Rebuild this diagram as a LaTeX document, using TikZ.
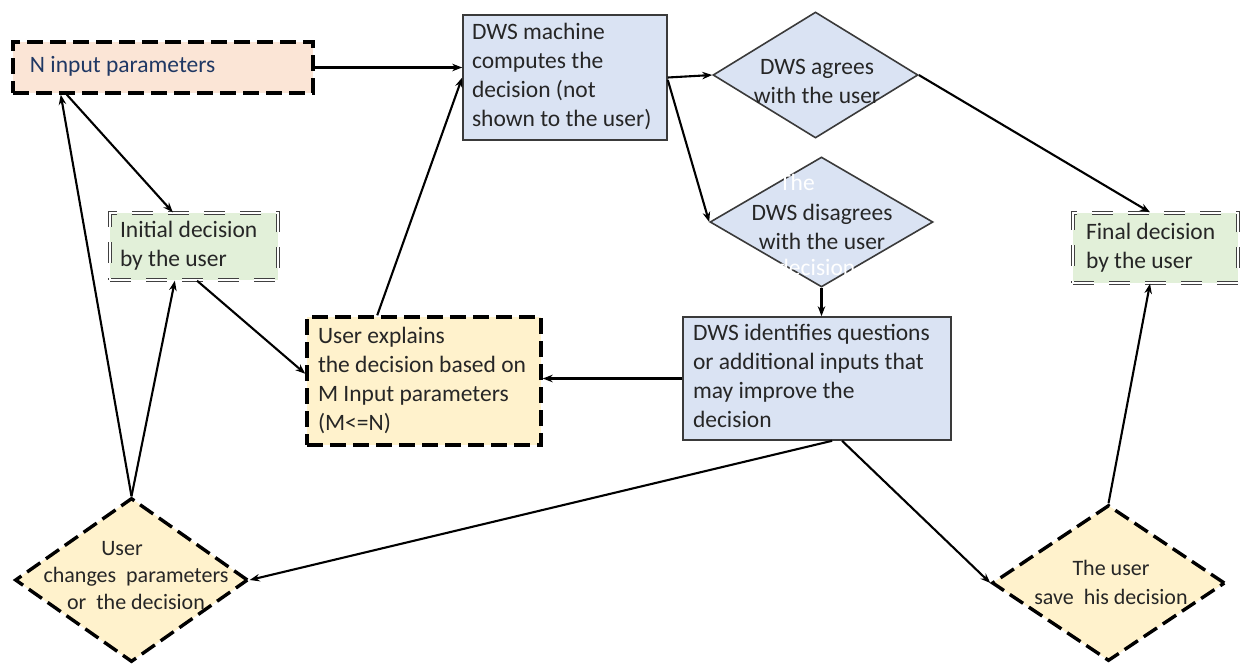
\documentclass[tikz,border=0pt]{standalone}
\usepackage{fontspec}
\setmainfont{Carlito}
\usetikzlibrary{shapes.geometric,arrows.meta,calc}
\definecolor{peach}{HTML}{FBE5D6}
\definecolor{greenf}{HTML}{E2F0D9}
\definecolor{bluef}{HTML}{DAE3F3}
\definecolor{yellowf}{HTML}{FFF2CC}
\definecolor{txt}{HTML}{262626}
\definecolor{navy}{HTML}{203864}
\definecolor{edge}{HTML}{3A3A3A}
\newcommand{\mylbox}[2]{\makebox[#1][l]{\begin{tabular}{@{}l@{}}#2\end{tabular}}}
\begin{document}
\begin{tikzpicture}[x=1pt,y=-1pt,
  every node/.style={font=\fontsize{23.5}{29}\selectfont, text=txt},
  lbox/.style={rectangle, inner ysep=0pt, inner xsep=10pt},
  dashbox/.style={draw=black, line width=3.4pt, dash pattern=on 16pt off 7pt},
  dblbox/.style={draw=black!75, line width=1.4pt, double=white, double distance=1.8pt, dash pattern=on 21pt off 15pt},
  solidbox/.style={draw=edge, line width=1.6pt, fill=bluef},
  dia/.style={diamond, inner sep=0pt},
  bluedia/.style={dia, draw=edge, line width=1.6pt, fill=bluef},
  yeldia/.style={dia, fill=yellowf, draw=black, line width=3.4pt, dash pattern=on 16pt off 7pt},
  ctext/.style={align=center, inner sep=0pt},
  conn/.style={line width=2.1pt, draw=black, -{Stealth[length=10pt,width=7.5pt]}}
]
\useasboundingbox (0,0) rectangle (1243,665);

% boxes
\node[lbox, dashbox, fill=peach, minimum height=51pt, inner xsep=17pt, text=navy] (nin) at (163,67.5)
  {\raisebox{10pt}{\mylbox{266pt}{N input parameters}}};
\node[lbox, dblbox, fill=greenf, minimum height=67pt] (init) at (194,246.5)
  {\mylbox{148pt}{Initial decision\\by the user}};
\node[lbox, dblbox, fill=greenf, minimum height=70pt, inner xsep=13pt] (fin) at (1155.5,248)
  {\mylbox{139pt}{Final decision\\by the user}};
\node[lbox, solidbox, minimum height=125pt, inner xsep=9pt] (dws) at (565,77.5)
  {\mylbox{186pt}{DWS machine\\computes the\\decision (not\\shown to the user)}};
\node[lbox, dashbox, fill=yellowf, minimum height=128pt, inner xsep=11pt] (ue) at (424,381)
  {\mylbox{212pt}{User explains\\the decision based on\\M Input parameters\\(M<=N)}};
\node[lbox, solidbox, minimum height=123pt] (ident) at (817,378.5)
  {\mylbox{248pt}{DWS identifies questions\\or additional inputs that\\may improve the\\decision}};

% diamonds
\node[bluedia, minimum width=205pt, minimum height=126pt] (agr) at (815.5,75) {};
\node[ctext] (agrt) at (817,81) {DWS agrees\\with the user};
\node[bluedia, minimum width=223pt, minimum height=130pt] (dis) at (821.5,222) {};
\node[ctext, text=white] (dish1) at (797,182) {The};
\node[ctext, text=white] (dish2) at (816,267) {decision};
\node[ctext] (dist) at (822,226.5) {DWS disagrees\\with the user};
\node[yeldia, minimum width=233pt, minimum height=164pt] (uc) at (131.5,580) {};
\node[ctext, font=\fontsize{22}{27}\selectfont] (uct) at (136,576) {User\hspace*{28pt}\\changes~~parameters\\or~~the decision};
\node[yeldia, minimum width=233pt, minimum height=156pt] (us) at (1108.5,583) {};
\node[ctext, font=\fontsize{22}{29}\selectfont] (ust) at (1111,582.5) {The user\\save~~his decision};

% connectors
\draw[conn] (nin.east) -- (nin.east -| dws.west);
\draw[conn] ($(nin.south west)!0.183!(nin.south east)$) -- ($(init.north west)!0.375!(init.north east)$);
\draw[conn] (uc.north) -- ($(nin.south west)!0.163!(nin.south east)$);
\draw[conn] (uc.north) -- ($(init.south west)!0.387!(init.south east)$);
\draw[conn] ($(init.south west)!0.518!(init.south east)$) -- ($(ue.north west)!0.445!(ue.south west)$);
\draw[conn] ($(ue.north west)!0.303!(ue.north east)$) -- (dws.west);
\draw[conn] (dws.east) -- (agr.west);
\draw[conn] ([yshift=-2.5pt]dws.east) -- (dis.west);
\draw[conn] (agr.east) -- ($(fin.north west)!0.467!(fin.north east)$);
\draw[conn] (dis.south) -- (dis.south |- ident.north);
\draw[conn] (ident.west) -- (ident.west -| ue.east);
\draw[conn] ($(ident.south west)!0.556!(ident.south east)$) -- (uc.east);
\draw[conn] ($(ident.south west)!0.593!(ident.south east)$) -- (us.west);
\draw[conn] (us.north) -- ($(fin.south west)!0.467!(fin.south east)$);
\end{tikzpicture}
\end{document}
